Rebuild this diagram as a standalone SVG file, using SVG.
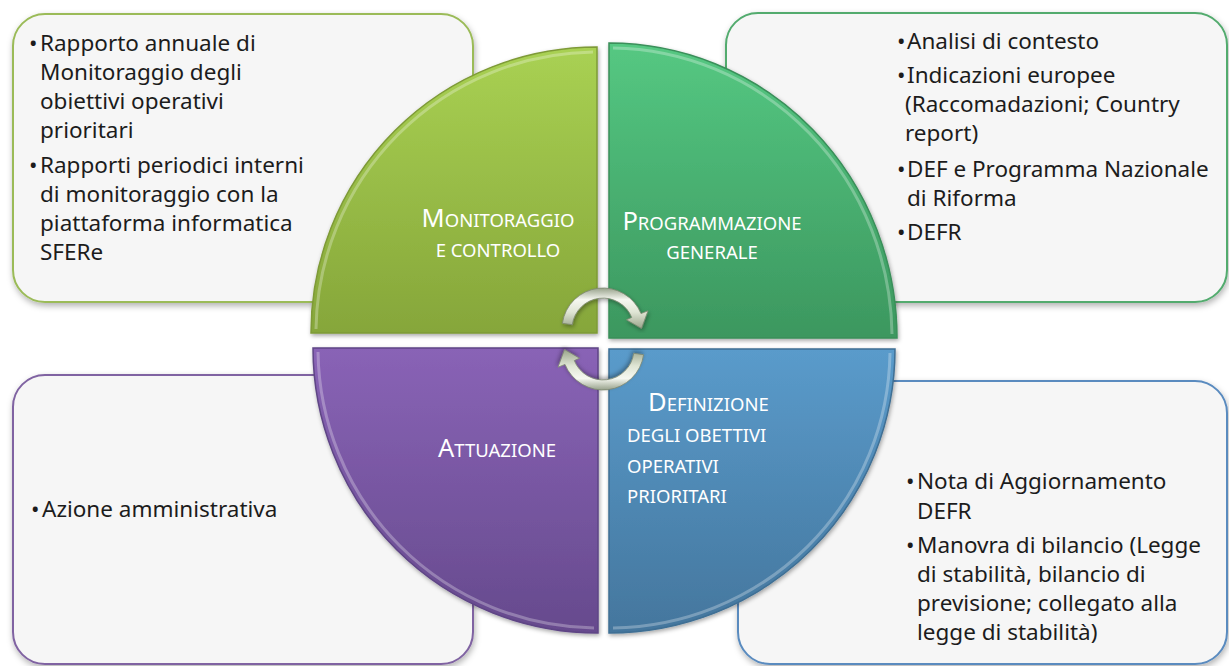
<svg xmlns="http://www.w3.org/2000/svg" width="1229" height="666" viewBox="0 0 1229 666">
<defs>
<style>
.box{fill:#f6f6f6;stroke-width:2}
.bt{font-family:"Noto Sans","Liberation Sans",sans-serif;font-size:22.5px;fill:#1c1c1c}
.ql{font-family:"Noto Sans","Liberation Sans",sans-serif;fill:#ffffff;font-size:18.5px}
.cap{font-size:25.5px}
.q{stroke-width:1.5}
.bevel{fill:none;stroke:#ffffff;stroke-opacity:0.28;stroke-width:3}
.arr{fill:url(#gArr);stroke:#7c8770;stroke-width:0.8}
</style>
<filter id="sh" x="-5%" y="-5%" width="110%" height="115%">
<feDropShadow dx="1" dy="3" stdDeviation="3" flood-color="#000" flood-opacity="0.3"/>
</filter>
<filter id="sh2" x="-10%" y="-10%" width="120%" height="120%">
<feDropShadow dx="1" dy="2" stdDeviation="2" flood-color="#000" flood-opacity="0.35"/>
</filter>
<linearGradient id="gTL" x1="0" y1="0" x2="0" y2="1">
<stop offset="0" stop-color="#a9d153"/><stop offset="1" stop-color="#86a63a"/>
</linearGradient>
<linearGradient id="gTR" x1="0" y1="0" x2="0" y2="1">
<stop offset="0" stop-color="#55c882"/><stop offset="1" stop-color="#3c975f"/>
</linearGradient>
<linearGradient id="gBL" x1="0" y1="0" x2="0" y2="1">
<stop offset="0" stop-color="#8963b6"/><stop offset="1" stop-color="#664a8d"/>
</linearGradient>
<linearGradient id="gBR" x1="0" y1="0" x2="0" y2="1">
<stop offset="0" stop-color="#5a9bcb"/><stop offset="1" stop-color="#44769d"/>
</linearGradient>
<linearGradient id="gArr" gradientUnits="userSpaceOnUse" x1="0" y1="-42" x2="0" y2="0">
<stop offset="0" stop-color="#8f9a82"/><stop offset="0.3" stop-color="#f6f8f1"/><stop offset="0.6" stop-color="#dfe5d4"/><stop offset="1" stop-color="#97a288"/>
</linearGradient>
</defs>

<g id="box-monitoraggio">
<rect class="box" x="13" y="14" width="460" height="288" rx="32" stroke="#9bbb59" filter="url(#sh)"/>
<text class="bt" x="29" y="51">•</text>
<text class="bt" x="40" y="51">Rapporto annuale di</text>
<text class="bt" x="40" y="80">Monitoraggio degli</text>
<text class="bt" x="40" y="109">obiettivi operativi</text>
<text class="bt" x="40" y="138">prioritari</text>
<text class="bt" x="29" y="173">•</text>
<text class="bt" x="40" y="173">Rapporti periodici interni</text>
<text class="bt" x="40" y="202">di monitoraggio con la</text>
<text class="bt" x="40" y="231">piattaforma informatica</text>
<text class="bt" x="40" y="260">SFERe</text>
</g>

<g id="box-programmazione">
<rect class="box" x="726" y="13" width="501" height="289" rx="32" stroke="#52ab6e" filter="url(#sh)"/>
<text class="bt" x="897" y="49">•</text>
<text class="bt" x="907" y="49">Analisi di contesto</text>
<text class="bt" x="897" y="83">•</text>
<text class="bt" x="907" y="83">Indicazioni europee</text>
<text class="bt" x="905" y="112">(Raccomadazioni; Country</text>
<text class="bt" x="905" y="141">report)</text>
<text class="bt" x="897" y="177">•</text>
<text class="bt" x="907" y="177">DEF e Programma Nazionale</text>
<text class="bt" x="907" y="206">di Riforma</text>
<text class="bt" x="897" y="240">•</text>
<text class="bt" x="907" y="240">DEFR</text>
</g>

<g id="box-attuazione">
<rect class="box" x="13" y="375" width="460" height="289" rx="32" stroke="#8064a2" filter="url(#sh)"/>
<text class="bt" x="31" y="517">•</text>
<text class="bt" x="42" y="517">Azione amministrativa</text>
</g>

<g id="box-definizione">
<rect class="box" x="738" y="381" width="489" height="283" rx="32" stroke="#5a8bbf" filter="url(#sh)"/>
<text class="bt" x="906" y="489">•</text>
<text class="bt" x="917" y="489">Nota di Aggiornamento</text>
<text class="bt" x="917" y="519">DEFR</text>
<text class="bt" x="906" y="553">•</text>
<text class="bt" x="917" y="553">Manovra di bilancio (Legge</text>
<text class="bt" x="917" y="582">di stabilità, bilancio di</text>
<text class="bt" x="917" y="611">previsione; collegato alla</text>
<text class="bt" x="917" y="640">legge di stabilità)</text>
</g>

<g id="quad-monitoraggio">
<path class="q" d="M597,333 L311,333 A286,286 0 0 1 597,47 Z" fill="url(#gTL)" stroke="#7e9a37" filter="url(#sh2)"/>
<path class="bevel" d="M316,329 A281,281 0 0 1 593,52"/>
<text class="ql" x="498" y="227" text-anchor="middle"><tspan class="cap">M</tspan>ONITORAGGIO</text>
<text class="ql" x="498" y="257" text-anchor="middle">E CONTROLLO</text>
</g>

<g id="quad-programmazione">
<path class="q" d="M609,338 L609,43 A288,295 0 0 1 897,338 Z" fill="url(#gTR)" stroke="#3a8f5a" filter="url(#sh2)"/>
<path class="bevel" d="M613,48 A283,290 0 0 1 892,334"/>
<text class="ql" x="712" y="230" text-anchor="middle"><tspan class="cap">P</tspan>ROGRAMMAZIONE</text>
<text class="ql" x="712" y="259" text-anchor="middle">GENERALE</text>
</g>

<g id="quad-attuazione">
<path class="q" d="M598,348 L598,633 A285,285 0 0 1 313,348 Z" fill="url(#gBL)" stroke="#5e4585" filter="url(#sh2)"/>
<path class="bevel" d="M318,352 A280,280 0 0 0 594,628" stroke-opacity="0.35"/>
<text class="ql" x="497" y="457" text-anchor="middle"><tspan class="cap">A</tspan>TTUAZIONE</text>
</g>

<g id="quad-definizione">
<path class="q" d="M609,349 L895,349 A286,284 0 0 1 609,633 Z" fill="url(#gBR)" stroke="#3f6f94" filter="url(#sh2)"/>
<path class="bevel" d="M890,353 A281,279 0 0 1 613,628"/>
<text class="ql" x="648" y="411"><tspan class="cap">D</tspan>EFINIZIONE</text>
<text class="ql" x="627" y="442" font-size="19">DEGLI OBETTIVI</text>
<text class="ql" x="627" y="473" font-size="19">OPERATIVI</text>
<text class="ql" x="627" y="503" font-size="19">PRIORITARI</text>
</g>

<g id="connectors">
<path class="arr" transform="translate(603,329)" filter="url(#sh2)" d="M-40.6,-5.7 A41,41 0 0 1 38,-15.4 L45,-18.2 L38.5,-0.5 L23.4,-9.2 L28.7,-11.6 A31,31 0 0 0 -30.7,-4.3 Z"/>
<path class="arr" transform="translate(603,349) rotate(180)" filter="url(#sh2)" d="M-40.6,-5.7 A41,41 0 0 1 38,-15.4 L45,-18.2 L38.5,-0.5 L23.4,-9.2 L28.7,-11.6 A31,31 0 0 0 -30.7,-4.3 Z"/>
</g>
</svg>
